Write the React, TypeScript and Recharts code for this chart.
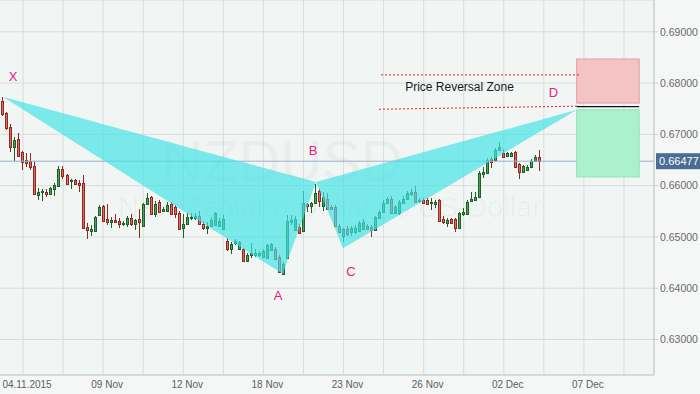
import {
  ComposedChart,
  Bar,
  XAxis,
  YAxis,
  CartesianGrid,
  ReferenceArea,
  ReferenceLine,
} from 'recharts'

// 4h candles, NZDUSD
const opens = [
  0.6740, 0.6765, 0.6742, 0.6714, 0.6675, 0.6691, 0.6666, 0.6650, 0.6648, 0.6638,
  0.6582, 0.6588, 0.6588, 0.6584, 0.6593, 0.6599, 0.6632, 0.6621, 0.6609, 0.6611,
  0.6605, 0.6605, 0.6519, 0.6512, 0.6512, 0.6543, 0.6560, 0.6535, 0.6529, 0.6533,
  0.6531, 0.6525, 0.6525, 0.6537, 0.6525, 0.6535, 0.6521, 0.6564, 0.6578, 0.6545,
  0.6568, 0.6551, 0.6551, 0.6564, 0.6558, 0.6547, 0.6517, 0.6525, 0.6537, 0.6537,
  0.6541, 0.6525, 0.6517, 0.6521, 0.6523, 0.6521, 0.6515, 0.6492, 0.6476, 0.6488,
  0.6476, 0.6476, 0.6453, 0.6465, 0.6465, 0.6465, 0.6461, 0.6459, 0.6475, 0.6476,
  0.6461, 0.6428, 0.6459, 0.6529, 0.6514, 0.6519, 0.6512, 0.6564, 0.6560, 0.6566,
  0.6590, 0.6560, 0.6574, 0.6558, 0.6558, 0.6521, 0.6502, 0.6515, 0.6510, 0.6510,
  0.6512, 0.6515, 0.6521, 0.6519, 0.6514, 0.6537, 0.6549, 0.6566, 0.6574, 0.6547,
  0.6547, 0.6566, 0.6574, 0.6584, 0.6588, 0.6570, 0.6572, 0.6572, 0.6566, 0.6564,
  0.6572, 0.6535, 0.6527, 0.6535, 0.6535, 0.6517, 0.6545, 0.6545, 0.6570, 0.6572,
  0.6578, 0.6623, 0.6625, 0.6652, 0.6650, 0.6670, 0.6664, 0.6658, 0.6658, 0.6666,
  0.6642, 0.6627, 0.6631, 0.6636, 0.6648, 0.6656,
]
const highs = [
  0.6765, 0.6773, 0.6744, 0.6720, 0.6695, 0.6703, 0.6668, 0.6664, 0.6664, 0.6648,
  0.6595, 0.6593, 0.6593, 0.6597, 0.6605, 0.6638, 0.6638, 0.6623, 0.6613, 0.6613,
  0.6611, 0.6621, 0.6527, 0.6523, 0.6541, 0.6562, 0.6562, 0.6564, 0.6539, 0.6545,
  0.6537, 0.6531, 0.6541, 0.6545, 0.6535, 0.6554, 0.6566, 0.6586, 0.6580, 0.6570,
  0.6572, 0.6558, 0.6568, 0.6568, 0.6562, 0.6551, 0.6545, 0.6547, 0.6547, 0.6547,
  0.6551, 0.6531, 0.6529, 0.6539, 0.6549, 0.6537, 0.6543, 0.6498, 0.6490, 0.6496,
  0.6492, 0.6478, 0.6469, 0.6488, 0.6476, 0.6473, 0.6476, 0.6486, 0.6488, 0.6480,
  0.6465, 0.6451, 0.6543, 0.6543, 0.6541, 0.6525, 0.6590, 0.6566, 0.6568, 0.6603,
  0.6593, 0.6588, 0.6586, 0.6562, 0.6562, 0.6525, 0.6517, 0.6521, 0.6521, 0.6523,
  0.6531, 0.6535, 0.6525, 0.6523, 0.6541, 0.6553, 0.6572, 0.6578, 0.6580, 0.6562,
  0.6572, 0.6580, 0.6590, 0.6593, 0.6599, 0.6576, 0.6576, 0.6576, 0.6576, 0.6572,
  0.6574, 0.6541, 0.6537, 0.6537, 0.6537, 0.6549, 0.6556, 0.6572, 0.6588, 0.6588,
  0.6629, 0.6636, 0.6654, 0.6656, 0.6673, 0.6685, 0.6671, 0.6666, 0.6666, 0.6668,
  0.6644, 0.6640, 0.6640, 0.6652, 0.6660, 0.6670,
]
const lows = [
  0.6736, 0.6736, 0.6708, 0.6666, 0.6648, 0.6656, 0.6631, 0.6636, 0.6631, 0.6582,
  0.6572, 0.6570, 0.6578, 0.6582, 0.6580, 0.6597, 0.6613, 0.6601, 0.6593, 0.6601,
  0.6588, 0.6515, 0.6496, 0.6502, 0.6512, 0.6541, 0.6529, 0.6523, 0.6517, 0.6527,
  0.6517, 0.6521, 0.6519, 0.6521, 0.6514, 0.6498, 0.6521, 0.6562, 0.6545, 0.6539,
  0.6547, 0.6549, 0.6549, 0.6543, 0.6537, 0.6514, 0.6498, 0.6523, 0.6533, 0.6533,
  0.6523, 0.6514, 0.6506, 0.6519, 0.6521, 0.6519, 0.6514, 0.6473, 0.6467, 0.6484,
  0.6475, 0.6451, 0.6451, 0.6459, 0.6461, 0.6461, 0.6459, 0.6457, 0.6473, 0.6455,
  0.6430, 0.6426, 0.6457, 0.6523, 0.6512, 0.6506, 0.6510, 0.6549, 0.6547, 0.6564,
  0.6558, 0.6551, 0.6553, 0.6553, 0.6519, 0.6508, 0.6490, 0.6502, 0.6502, 0.6506,
  0.6510, 0.6514, 0.6514, 0.6500, 0.6512, 0.6535, 0.6547, 0.6564, 0.6545, 0.6545,
  0.6543, 0.6564, 0.6572, 0.6580, 0.6566, 0.6566, 0.6564, 0.6562, 0.6553, 0.6556,
  0.6529, 0.6525, 0.6519, 0.6525, 0.6510, 0.6515, 0.6541, 0.6543, 0.6568, 0.6570,
  0.6576, 0.6615, 0.6623, 0.6634, 0.6648, 0.6668, 0.6654, 0.6656, 0.6656, 0.6636,
  0.6613, 0.6625, 0.6629, 0.6634, 0.6646, 0.6629,
]
const closes = [
  0.6761, 0.6740, 0.6712, 0.6675, 0.6689, 0.6658, 0.6646, 0.6644, 0.6636, 0.6584,
  0.6588, 0.6590, 0.6584, 0.6595, 0.6601, 0.6632, 0.6619, 0.6603, 0.6611, 0.6603,
  0.6601, 0.6517, 0.6514, 0.6515, 0.6539, 0.6558, 0.6531, 0.6529, 0.6533, 0.6529,
  0.6525, 0.6527, 0.6537, 0.6525, 0.6533, 0.6529, 0.6564, 0.6576, 0.6545, 0.6564,
  0.6549, 0.6554, 0.6562, 0.6545, 0.6545, 0.6515, 0.6525, 0.6539, 0.6539, 0.6541,
  0.6525, 0.6517, 0.6521, 0.6533, 0.6547, 0.6531, 0.6535, 0.6476, 0.6486, 0.6492,
  0.6490, 0.6453, 0.6465, 0.6469, 0.6469, 0.6469, 0.6473, 0.6484, 0.6486, 0.6457,
  0.6432, 0.6447, 0.6531, 0.6533, 0.6535, 0.6508, 0.6566, 0.6560, 0.6566, 0.6586,
  0.6570, 0.6578, 0.6554, 0.6554, 0.6521, 0.6510, 0.6515, 0.6506, 0.6517, 0.6517,
  0.6527, 0.6529, 0.6515, 0.6514, 0.6539, 0.6549, 0.6566, 0.6574, 0.6547, 0.6558,
  0.6568, 0.6574, 0.6586, 0.6588, 0.6568, 0.6572, 0.6566, 0.6564, 0.6568, 0.6568,
  0.6531, 0.6529, 0.6533, 0.6527, 0.6517, 0.6547, 0.6549, 0.6568, 0.6574, 0.6578,
  0.6625, 0.6627, 0.6650, 0.6646, 0.6670, 0.6675, 0.6656, 0.6664, 0.6664, 0.6636,
  0.6627, 0.6638, 0.6636, 0.6648, 0.6656, 0.66477,
]

// total candle slots on the time axis (empty ones on the right)
const SLOTS = 164
const gridIdx = [6, 16, 26, 36, 46, 56, 66, 76, 86, 96, 106, 116, 126, 136, 146, 156]
const dateIdx = [6, 26, 46, 66, 86, 106, 126, 146]
const dateLabels = ['04.11.2015', '09 Nov', '12 Nov', '18 Nov', '23 Nov', '26 Nov', '02 Dec', '07 Dec']

const Y_MIN = 0.62308
const Y_MAX = 0.6962
const priceTicks = [0.63, 0.64, 0.65, 0.66, 0.67, 0.68, 0.69]
const LAST = 0.66477

// harmonic pattern pivots X A B C D (slot, price)
const pivotNames = ['X', 'A', 'B', 'C', 'D']
const pivotIdx = [1.07, 70.82, 79.13, 85.87, 144.29]
const pivotPrice = [0.6773, 0.6428, 0.6607, 0.6478, 0.6748]
const pivotLabelIdx = [3.49, 69.65, 78.38, 87.87, 138.4]
const pivotLabelPrice = [0.6804, 0.6377, 0.6660, 0.6424, 0.6773]

// price reversal zone
const zoneIdx = [144.2, 159.8]
const sellZone = [0.6761, 0.6847]
const buyZone = [0.6617, 0.6748]
const zoneMid = 0.6754
const upperGuide = [95.36, 0.6816, 145.03, 0.6816]
const lowerGuide = [94.86, 0.6749, 144.53, 0.6755]

const FONT = '"Liberation Sans", Arial, sans-serif'

const rows = Array.from({ length: SLOTS }, (_, i) =>
  i < opens.length
    ? { i, open: opens[i], high: highs[i], low: lows[i], close: closes[i] }
    : { i },
)

function Candle(props: any) {
  const { x, y, width, height, payload } = props
  if (!payload || payload.high == null) return null
  const { open, close, high, low } = payload
  const top = Math.min(y, y + height)
  const h = Math.abs(height)
  const toY = (v: number) => top + ((high - v) / (high - low)) * h
  const cx = Math.floor(x + width / 2) + 0.5
  const up = close >= open
  const stroke = up ? '#1f5f2b' : '#8e2a1f'
  const fill = up ? '#46a356' : '#e0695c'
  const bTop = Math.round(toY(Math.max(open, close)))
  const bBot = Math.max(Math.round(toY(Math.min(open, close))), bTop + 1)
  return (
    <g shapeRendering="crispEdges">
      <line x1={cx} x2={cx} y1={top} y2={top + h} stroke={stroke} strokeWidth={1} />
      <rect x={cx - 1} y={bTop + 0.5} width={2} height={bBot - bTop} fill={fill} stroke={stroke} strokeWidth={1} />
    </g>
  )
}

function mapper(props: any) {
  const { x, y, width, height } = props
  const fx = (idx: number) => x + ((idx + 0.5) / SLOTS) * width
  const fy = (p: number) => y + ((Y_MAX - p) / (Y_MAX - Y_MIN)) * height
  return { fx, fy }
}

function Watermark(props: any) {
  const { fx, fy } = mapper(props)
  return (
    <g fill="#000" fillOpacity={0.03} fontFamily={FONT}>
      <text x={fx(40.5)} y={fy(0.6610)} fontSize={58}>NZDUSD</text>
      <text x={fx(29.7)} y={fy(0.6538)} fontSize={29}>New Zealand Dollar vs US Dollar</text>
    </g>
  )
}

function PatternOverlay(props: any) {
  const { fx, fy } = mapper(props)
  const pt = (k: number) => `${fx(pivotIdx[k])},${fy(pivotPrice[k])}`
  const zx = fx(zoneIdx[0])
  const zw = fx(zoneIdx[1]) - zx
  return (
    <g>
      <polygon points={`${pt(0)} ${pt(1)} ${pt(2)}`} fill="#3fe3e6" fillOpacity={0.68} />
      <polygon points={`${pt(2)} ${pt(3)} ${pt(4)}`} fill="#3fe3e6" fillOpacity={0.68} />
      <rect x={zx} y={fy(sellZone[1])} width={zw} height={fy(sellZone[0]) - fy(sellZone[1])}
        fill="#f4c3c3" stroke="#ea9d9d" strokeWidth={1} />
      <rect x={zx} y={fy(buyZone[1])} width={zw} height={fy(buyZone[0]) - fy(buyZone[1])}
        fill="#a9f2cc" stroke="#8fe3b6" strokeWidth={1} />
      <line x1={zx} x2={zx + zw} y1={fy(zoneMid)} y2={fy(zoneMid)} stroke="#111" strokeWidth={1.2} />
      <line x1={fx(upperGuide[0])} y1={fy(upperGuide[1])} x2={fx(upperGuide[2])} y2={fy(upperGuide[3])}
        stroke="#e02020" strokeDasharray="2 2" />
      <line x1={fx(lowerGuide[0])} y1={fy(lowerGuide[1])} x2={fx(lowerGuide[2])} y2={fy(lowerGuide[3])}
        stroke="#e02020" strokeDasharray="2 2" />
      <text x={fx(114.95)} y={fy(0.6785)} textAnchor="middle" fontSize={12} fill="#1a1a1a" fontFamily={FONT}>
        Price Reversal Zone
      </text>
      {pivotNames.map((name, k) => (
        <text key={name} x={fx(pivotLabelIdx[k])} y={fy(pivotLabelPrice[k])} textAnchor="middle"
          fontSize={13} fill="#e8207f" fontFamily={FONT}>
          {name}
        </text>
      ))}
    </g>
  )
}

function DateTick(props: any) {
  const { x, y, payload } = props
  const k = dateIdx.indexOf(payload.value)
  if (k < 0) return null
  return (
    <text x={x + 4} y={y + 5} textAnchor="middle" fontSize={10} fill="#5d5d5d" fontFamily={FONT}>
      {dateLabels[k]}
    </text>
  )
}

function PriceTag(props: any) {
  const { viewBox } = props
  const x = viewBox.x + viewBox.width + 2
  const y = viewBox.y
  return (
    <g>
      <rect x={x} y={y - 8} width={46} height={16} fill="#4b6d93" />
      <text x={x + 3} y={y + 4} fontSize={11} fill="#fff" fontFamily={FONT}>
        {LAST.toFixed(5)}
      </text>
    </g>
  )
}

export default function App() {
  return (
    <div style={{ position: 'absolute', left: 0, top: 0, width: 700, height: 394, overflow: 'hidden', background: '#f5f7f6' }}>
      <div style={{ position: 'absolute', left: -3, top: 0 }}>
        <ComposedChart width={703} height={394} data={rows} margin={{ top: 0, right: 0, bottom: 0, left: 0 }}>
          <CartesianGrid stroke="#d9dddc" fill="#f1f5f3" />
          <XAxis
            dataKey="i"
            type="category"
            ticks={gridIdx}
            interval={0}
            height={19}
            tick={DateTick}
            tickLine={false}
            axisLine={{ stroke: '#c5cbca' }}
          />
          <YAxis
            orientation="right"
            type="number"
            domain={[Y_MIN, Y_MAX]}
            allowDataOverflow
            ticks={priceTicks}
            width={46}
            tickSize={4}
            tickMargin={2}
            tickFormatter={(v: number) => v.toFixed(5)}
            tick={{ fill: '#6a6a6a', fontSize: 10.5, fontFamily: FONT }}
            axisLine={{ stroke: '#c5cbca' }}
            tickLine={{ stroke: '#c5cbca' }}
          />
          <ReferenceArea x1={0} x2={SLOTS - 1} y1={Y_MIN} y2={Y_MAX} ifOverflow="visible" shape={Watermark} zIndex={-60} />
          <ReferenceLine y={LAST} stroke="#9cb1cb" strokeWidth={1} label={PriceTag} />
          <Bar
            dataKey={(d: any) => (d.high == null ? null : [d.low, d.high])}
            shape={Candle}
            isAnimationActive={false}
          />
          <ReferenceArea x1={0} x2={SLOTS - 1} y1={Y_MIN} y2={Y_MAX} ifOverflow="visible" shape={PatternOverlay} zIndex={1000} />
        </ComposedChart>
      </div>
    </div>
  )
}
